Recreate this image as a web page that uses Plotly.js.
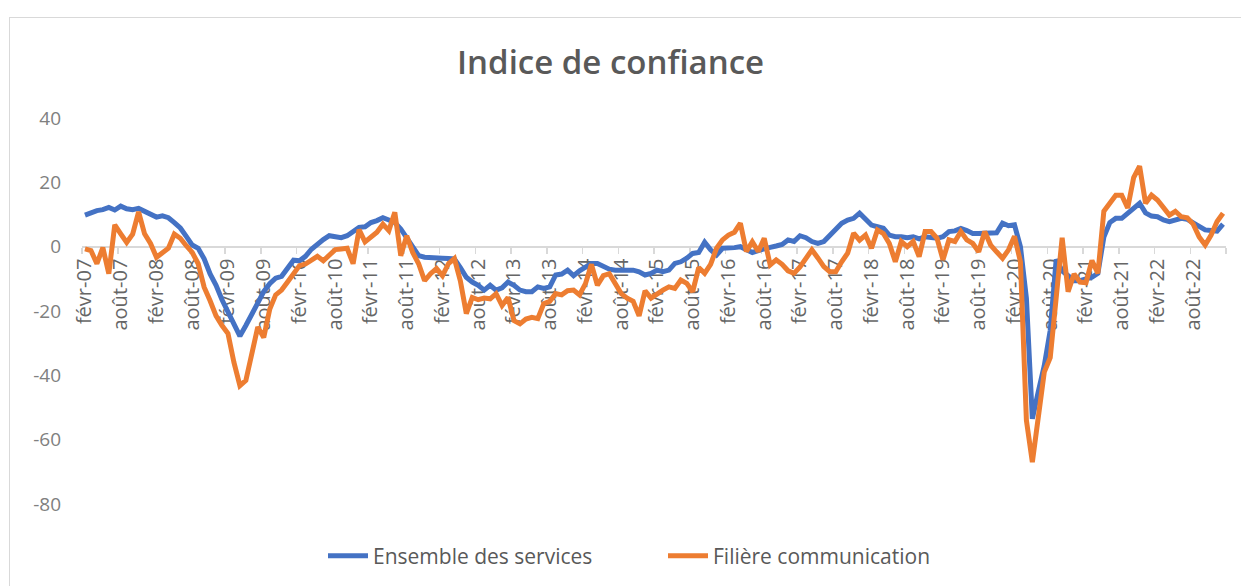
<!DOCTYPE html>
<html>
<head>
<meta charset="utf-8">
<script src="https://cdn.plot.ly/plotly-3.0.1.min.js"></script>
<style>
  html, body { margin: 0; padding: 0; background: #ffffff; }
  #wrap { position: relative; width: 1241px; height: 586px; overflow: hidden; }
  #chart { position: absolute; left: 0; top: 0; width: 1241px; height: 586px; }
  #frame { position: absolute; left: 9px; top: 17px; width: 1300px; height: 700px; border: 1px solid #d9d9d9; pointer-events: none; }
</style>
</head>
<body>
<div id="wrap">
  <div id="chart"></div>
  <div id="frame"></div>
</div>
<script>
// Month names (French, Excel "mmm-yy" style) and first month of the series
const monthNames = ['janv','févr','mars','avr','mai','juin','juil','août','sept','oct','nov','déc'];
const startYear = 2007;
const startMonth = 1; // févr
const nMonths = 192;  // févr-07 .. janv-23

const categories = [];
for (let k = 0; k < nMonths; k++) {
  const m = (startMonth + k) % 12;
  const y = startYear + Math.floor((startMonth + k) / 12);
  categories.push(monthNames[m] + '-' + String(y).slice(2));
}

const seriesNames = ['Ensemble des services', 'Filière communication'];

const ensembleServices = [
  9.8, 10.6, 11.2, 11.5, 12.2, 11.4, 12.6, 11.8, 11.5, 11.9, 11.0, 10.0,
  9.2, 9.6, 9.0, 7.5, 5.8, 3.2, 0.5, -0.5, -3.8, -8.5, -12, -16.5,
  -20, -23.5, -27.8, -24.5, -21, -17, -14, -11.5, -9.8, -9.2, -7, -4.2,
  -4.4, -3, -0.8, 0.8, 2.2, 3.4, 3.2, 2.8, 3.4, 4.5, 6, 6.2,
  7.5, 8.1, 9.0, 8.3, 7.5, 5.5, 2.5, -0.5, -2.8, -3.3, -3.5, -3.6,
  -3.6, -3.7, -3.8, -6.5, -9.5, -11, -12, -13.5, -12, -13.5, -12.8, -11,
  -12, -13.5, -14, -14, -12.5, -13, -12.5, -8.8, -8.5, -7.3, -9, -7.5,
  -6.5, -5.2, -5.2, -6.2, -7, -7.3, -7.3, -7, -7.3, -7.8, -8.8, -8.3,
  -7.3, -7.8, -7.3, -5.2, -4.7, -3.6, -2.1, -1.8, 1.4, -1, -2.6, -0.5,
  -0.5, -0.3, 0, -1, -1.8, -1.2, -0.5, -0.2, 0.2, 0.7, 2.1, 1.6,
  3.4, 2.8, 1.6, 1.0, 1.6, 3.6, 5.7, 7.3, 8.3, 8.8, 10.4, 8.3,
  6.7, 6.2, 5.7, 3.6, 3.1, 3.1, 2.8, 3.1, 2.4, 3.1, 2.8, 2.6,
  3.1, 4.7, 4.9, 5.7, 5, 4.1, 4.1, 4.1, 4.1, 4.3, 7.3, 6.5,
  6.8, 0, -16, -53.5, -45, -37, -26, -4, -7.5, -9, -10.6, -10.6,
  -10, -9.5, -8.3, 3, 7.5, 8.8, 8.8, 10.4, 11.5, 13.5, 10.5, 9.5,
  9.3, 8.3, 7.8, 8.3, 8.8, 8.5, 7.3, 6, 5.2, 5, 4.8, 7
];

const filiereCommunication = [
  -0.7, -1.2, -5.3, -0.3, -8.4, 6.8, 4.0, 1.3, 3.9, 10.8, 4.0, 1.0,
  -3.3, -1.8, -0.5, 3.9, 2.6, 0.3, -1.8, -5.3, -12.6, -16.8, -21.5, -24.5,
  -27, -36, -43.2, -41.6, -33, -25, -28.2, -19.5, -15, -13.5, -11, -8.5,
  -5.9, -5.4, -4.4, -3, -4.4, -2.5, -0.9, -0.7, -0.5, -5.3, 5.3, 1.5,
  3.0, 4.5, 7, 5, 10.7, -2.8, 3.4, -1.8, -5.3, -10.6, -8.4, -6.8,
  -9, -5.3, -3.7, -10.6, -20.8, -15.8, -16.5, -16, -16.2, -14.6, -18.3, -15.8,
  -23, -24, -22.5, -22, -22.4, -17.7, -17, -14.6, -15, -13.7, -13.5, -15,
  -11.5, -5.5, -12, -9, -8.4, -11.5, -14.6, -16, -17, -21.5, -13.7, -16,
  -14.5, -13.5, -12.5, -13, -10.4, -11.4, -14, -6.5, -8.3, -5.5, -0.5, 2.1,
  3.6, 4.5, 7.3, -1.5, 1.5, -1.5, 2.6, -5.7, -4.1, -5.5, -7.5, -8.3,
  -6.3, -3.6, -1, -3.5, -6.2, -7.8, -7.8, -4.7, -2, 4.2, 2, 3.6,
  -0.5, 5.2, 4.1, 1, -4.7, 1.6, 0, 1.6, -3.1, 4.7, 4.7, 2.6,
  -4.1, 2.1, 1.6, 4.7, 2.1, 1, -1.6, 4.7, 0.5, -1.6, -3.6, -1,
  3.2, -4.7, -54, -67, -53, -39, -34.5, -15, 2.8, -14, -8.5, -11,
  -11.2, -4.3, -8.3, 11, 13.5, 16, 16, 12, 21.5, 25, 13.5, 16,
  14.5, 12, 9.8, 11, 9.3, 9, 7, 3, 0.5, 3.6, 7.8, 10.4
];

const yTickValues = [-80, -60, -40, -20, 0, 20, 40];
const yTickLabels = ['-80', '-60', '-40', '-20', '0', '20', '40'];

const FONT = 'Open Sans, "Noto Sans", sans-serif';

const traces = [
  {
    x: categories, y: ensembleServices, name: seriesNames[0],
    type: 'scatter', mode: 'lines',
    line: { color: '#4472C4', width: 5 },
    hoverinfo: 'x+y'
  },
  {
    x: categories, y: filiereCommunication, name: seriesNames[1],
    type: 'scatter', mode: 'lines',
    line: { color: '#ED7D31', width: 5 },
    hoverinfo: 'x+y'
  }
];

const layout = {
  width: 1241, height: 586,
  paper_bgcolor: 'rgba(0,0,0,0)', plot_bgcolor: 'rgba(0,0,0,0)',
  margin: { l: 82, r: 15, t: 118, b: 82 },
  font: { family: FONT, color: '#595959' },
  title: {
    text: 'Indice de confiance',
    font: { family: FONT, size: 33, color: '#595959', weight: 600 },
    xref: 'container', x: 0.492, xanchor: 'center',
    yref: 'container', y: 0.894, yanchor: 'middle'
  },
  xaxis: {
    type: 'category',
    range: [-0.5, nMonths - 0.5],
    anchor: 'free', position: 80 / 120,
    tickson: 'boundaries', tick0: 0, dtick: 6,
    ticks: 'outside', ticklen: 6, tickwidth: 1.5, tickcolor: '#d9d9d9',
    showline: true, linecolor: '#d9d9d9', linewidth: 2,
    showgrid: false, zeroline: false,
    tickangle: -90,
    ticklabelstandoff: 3,
    tickfont: { family: FONT, size: 20, color: '#666666' },
    layer: 'below traces',
    fixedrange: true
  },
  yaxis: {
    range: [-80, 40],
    tickvals: yTickValues,
    ticktext: yTickLabels,
    showgrid: false, zeroline: false, showline: false,
    ticks: '',
    ticklabelstandoff: 20,
    tickfont: { family: FONT, size: 19, color: '#808080' },
    fixedrange: true
  },
  showlegend: true,
  legend: {
    orientation: 'h',
    xref: 'container', x: 323 / 1241, xanchor: 'left',
    yref: 'container', y: 0.0512, yanchor: 'middle',
    font: { family: FONT, size: 21, color: '#595959' },
    entrywidth: 285, entrywidthmode: 'pixels',
    itemwidth: 40
  }
};

Plotly.newPlot('chart', traces, layout, { staticPlot: true, displayModeBar: false });
</script>
</body>
</html>
